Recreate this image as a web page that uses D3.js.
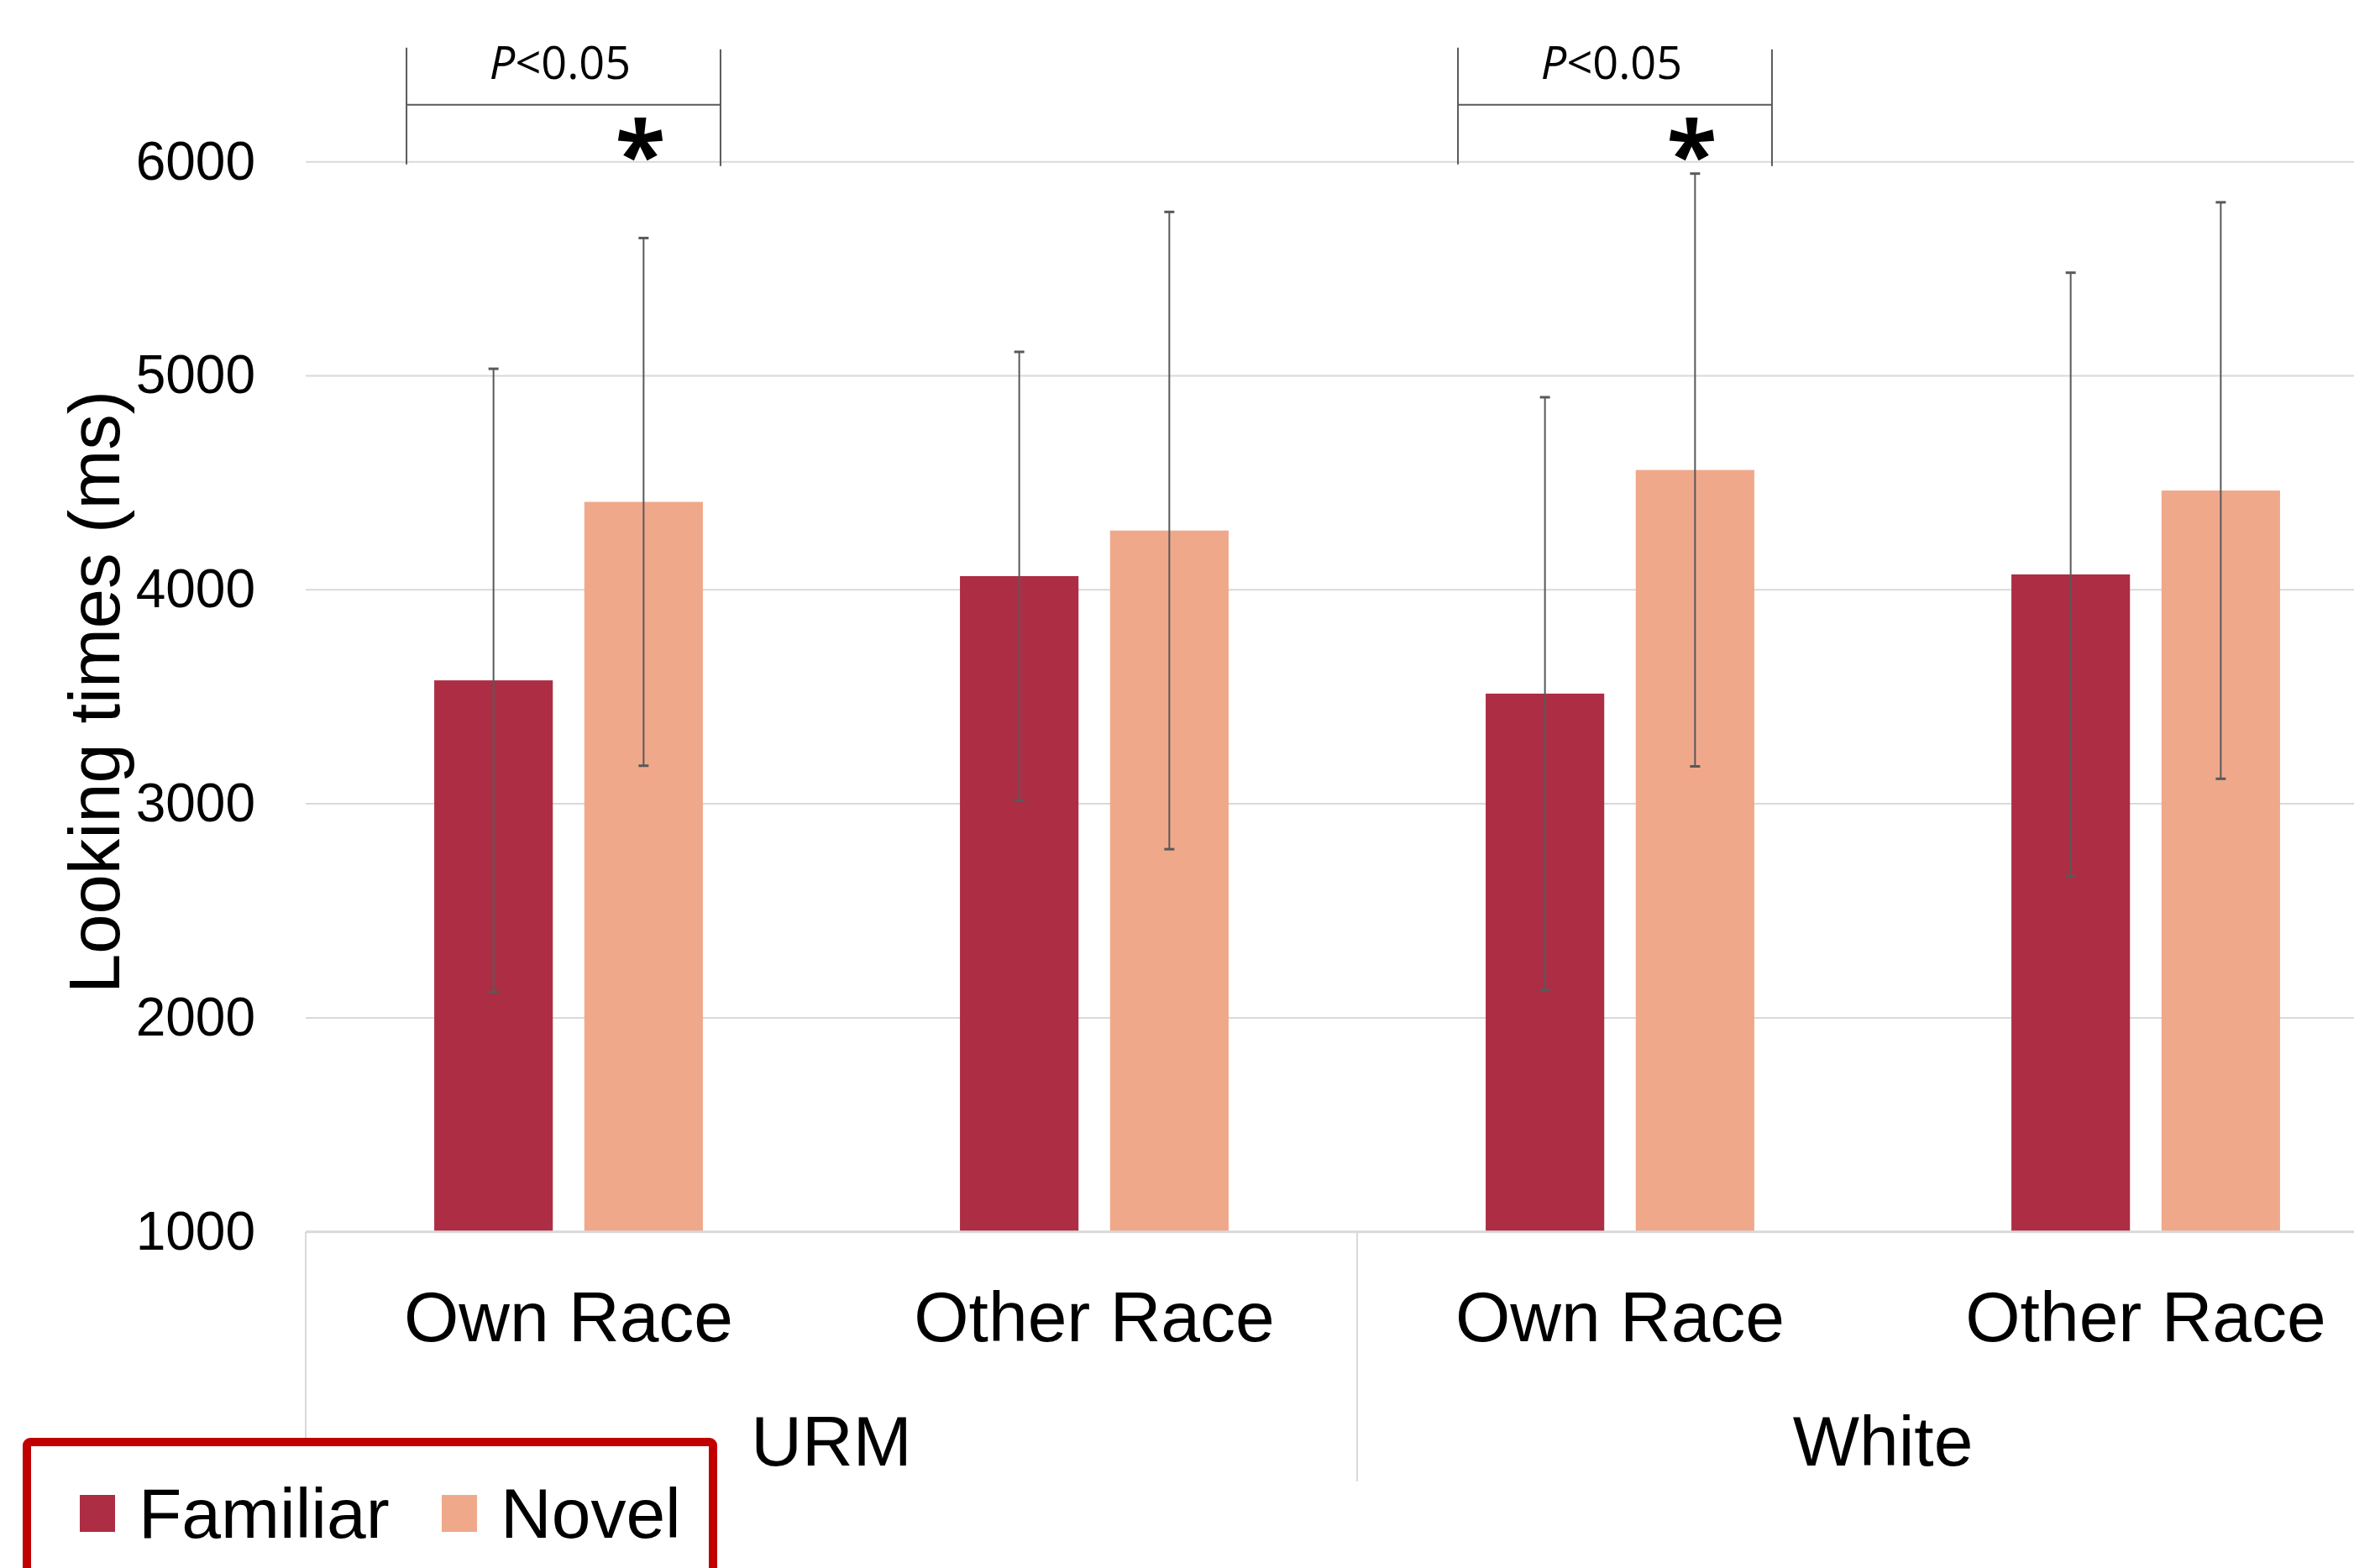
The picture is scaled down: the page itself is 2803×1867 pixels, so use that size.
<!DOCTYPE html>
<html>
<head>
<meta charset="utf-8">
<script src="https://cdn.jsdelivr.net/npm/d3@7"></script>
<style>
  body { margin: 0; background: #fff; }
  svg { display: block; }
  .tick text { font-family: "Liberation Sans", Arial, sans-serif; }
</style>
</head>
<body>
<div id="chart"></div>
<script>
const groups = ["URM", "White"];
const conditions = ["Own Race", "Other Race"];
const series = ["Familiar", "Novel"];
const familiarMeans = [3577, 4064, 3515, 4072];
const novelMeans = [4411, 4277, 4560, 4464];
const familiarErr = [1456, 1048, 1385, 1410];
const novelErr = [1233, 1489, 1385, 1347];
const yTicks = [1000, 2000, 3000, 4000, 5000, 6000];
const sigCategories = [0, 2];
const sigLabel = "<0.05";

const colors = { Familiar: "#ad2d44", Novel: "#f0a88b" };
const width = 2803;
const height = 1867;
const plotLeft = 364;
const plotRight = 2868; // plot runs past the right edge, like the source
const plotTop = 192.7;
const plotBottom = 1466.7;
const font = '"Liberation Sans", Arial, sans-serif';

// flat list of categories, one per bar group
const cats = [];
groups.forEach(g => conditions.forEach(c => cats.push({ group: g, cond: c, key: g + "|" + c })));

const rows = cats.map((c, i) => ({
    ...c,
    values: [
        { s: "Familiar", v: familiarMeans[i], e: familiarErr[i] },
        { s: "Novel", v: novelMeans[i], e: novelErr[i] }
    ]
}));

const svg = d3.select("#chart")
    .append("svg")
    .attr("width", width)
    .attr("height", height);

svg.append("rect").attr("width", width).attr("height", height).attr("fill", "#fff");

const x0 = d3.scaleBand()
    .domain(cats.map(c => c.key))
    .range([plotLeft, plotRight]);

const bw = x0.bandwidth();
const x1 = d3.scaleBand()
    .domain(series)
    .range([bw * 0.2445, bw * 0.7555])
    .paddingInner(0.21);

const y = d3.scaleLinear()
    .domain([1000, 6000])
    .range([plotBottom, plotTop]);

// gridlines
svg.append("g")
    .selectAll("line")
    .data(yTicks.slice(1))
    .enter()
    .append("line")
    .attr("x1", plotLeft)
    .attr("x2", width)
    .attr("y1", d => y(d))
    .attr("y2", d => y(d))
    .attr("stroke", "#d9d9d9")
    .attr("stroke-width", 2);

// y axis labels
const yAxis = svg.append("g")
    .attr("transform", `translate(${plotLeft},0)`)
    .call(d3.axisLeft(y).tickValues(yTicks).tickSize(0).tickPadding(60).tickFormat(d3.format("d")));
yAxis.select(".domain").remove();
yAxis.selectAll("text")
    .attr("font-size", 64)
    .attr("fill", "#000");

// y title
svg.append("text")
    .attr("transform", `translate(142,824) rotate(-90)`)
    .attr("text-anchor", "middle")
    .attr("font-family", font)
    .attr("font-size", 85)
    .attr("fill", "#000")
    .text("Looking times (ms)");

// bars
const cat = svg.append("g")
    .selectAll("g")
    .data(rows)
    .enter()
    .append("g")
    .attr("transform", d => `translate(${x0(d.key)},0)`);

cat.selectAll("rect")
    .data(d => d.values)
    .enter()
    .append("rect")
    .attr("x", d => x1(d.s))
    .attr("width", x1.bandwidth())
    .attr("y", d => y(d.v))
    .attr("height", d => y(1000) - y(d.v))
    .attr("fill", d => colors[d.s]);

// error bars
const err = cat.selectAll(".err")
    .data(d => d.values)
    .enter()
    .append("g")
    .attr("class", "err")
    .attr("stroke", "#595959")
    .attr("stroke-width", 2);

err.append("line")
    .attr("x1", d => x1(d.s) + x1.bandwidth() / 2)
    .attr("x2", d => x1(d.s) + x1.bandwidth() / 2)
    .attr("y1", d => y(d.v + d.e))
    .attr("y2", d => y(d.v - d.e));

[1, -1].forEach(sign => {
    err.append("line")
        .attr("x1", d => x1(d.s) + x1.bandwidth() / 2 - 6)
        .attr("x2", d => x1(d.s) + x1.bandwidth() / 2 + 6)
        .attr("y1", d => y(d.v + sign * d.e))
        .attr("y2", d => y(d.v + sign * d.e))
        .attr("stroke-width", 3);
});

// category axis
svg.append("line")
    .attr("x1", plotLeft).attr("x2", width)
    .attr("y1", y(1000)).attr("y2", y(1000))
    .attr("stroke", "#d9d9d9").attr("stroke-width", 3);

const groupEdges = groups.map((g, i) => x0(cats[i * conditions.length].key));
svg.append("g")
    .selectAll("line")
    .data(groupEdges)
    .enter()
    .append("line")
    .attr("x1", d => d).attr("x2", d => d)
    .attr("y1", y(1000)).attr("y2", 1764)
    .attr("stroke", "#d9d9d9").attr("stroke-width", 2);

svg.append("g")
    .selectAll("text")
    .data(cats)
    .enter()
    .append("text")
    .attr("x", d => x0(d.key) + bw / 2)
    .attr("y", 1597)
    .attr("text-anchor", "middle")
    .attr("font-family", font)
    .attr("font-size", 84)
    .text(d => d.cond);

svg.append("g")
    .selectAll("text")
    .data(groups)
    .enter()
    .append("text")
    .attr("x", (d, i) => groupEdges[i] + bw * conditions.length / 2)
    .attr("y", 1745)
    .attr("text-anchor", "middle")
    .attr("font-family", font)
    .attr("font-size", 84)
    .text(d => d);

// significance brackets
const sig = svg.append("g")
    .selectAll("g")
    .data(sigCategories)
    .enter()
    .append("g")
    .attr("transform", i => `translate(${x0(cats[i].key)},0)`);

sig.append("path")
    .attr("d", () => {
        const l = x1("Familiar") - 33;
        const r = x1("Novel") + x1.bandwidth() + 21;
        return `M${l},${y(6000) - 136}V${y(6000) + 3}M${r},${y(6000) - 134}V${y(6000) + 5}M${l},${y(6000) - 68}H${r}`;
    })
    .attr("fill", "none")
    .attr("stroke", "#595959")
    .attr("stroke-width", 2);

const pt = sig.append("text")
    .attr("x", bw / 2 - 10)
    .attr("y", y(6000) - 99)
    .attr("text-anchor", "middle")
    .attr("font-family", '"Open Sans", "Noto Sans", sans-serif')
    .attr("font-size", 54)
    .attr("fill", "#000");
pt.append("tspan").attr("font-style", "italic").text("P");
pt.append("tspan").text(sigLabel);

sig.append("text")
    .attr("x", x1("Novel") + x1.bandwidth() / 2 - 4)
    .attr("y", y(6000) + 30)
    .attr("text-anchor", "middle")
    .attr("font-family", '"Open Sans", "Noto Sans", sans-serif')
    .attr("font-weight", "bold")
    .attr("font-size", 110)
    .attr("fill", "#000")
    .text("*");

// legend
const legend = svg.append("g");
legend.append("rect")
    .attr("x", 32).attr("y", 1717)
    .attr("width", 817).attr("height", 300)
    .attr("rx", 4)
    .attr("fill", "#fff")
    .attr("stroke", "#c00000")
    .attr("stroke-width", 10);

const legendX = [95, 526];
const item = legend.selectAll(".item")
    .data(series)
    .enter()
    .append("g")
    .attr("transform", (d, i) => `translate(${legendX[i]},0)`);

item.append("rect")
    .attr("y", 1780)
    .attr("width", 42)
    .attr("height", 44)
    .attr("fill", d => colors[d]);

item.append("text")
    .attr("x", 70)
    .attr("y", 1831)
    .attr("font-family", font)
    .attr("font-size", 84)
    .text(d => d);
</script>
</body>
</html>
